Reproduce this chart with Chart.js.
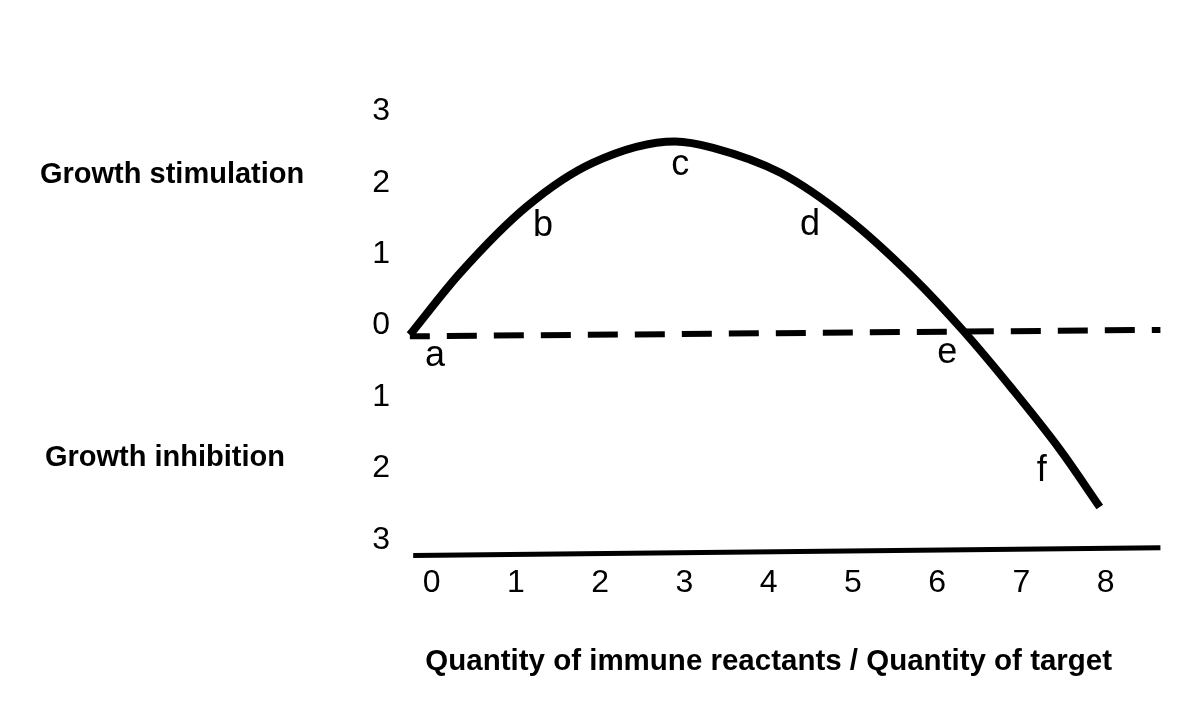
<!DOCTYPE html>
<html>
<head>
<meta charset="utf-8">
<title>Growth stimulation / inhibition</title>
<script src="https://cdn.jsdelivr.net/npm/chart.js@4.4.0/dist/chart.umd.min.js"></script>
<style>
  html, body { margin: 0; padding: 0; background: #fff; }
</style>
</head>
<body>
<canvas id="chart" width="1200" height="720"></canvas>
<script>
// curve
const curveX = [-0.26, 0.34, 1.13, 1.91, 2.89, 3.34, 4.14, 4.93, 5.71, 6.30, 6.90, 7.46, 7.93];
const curveY = [-0.13, 0.74, 1.67, 2.28, 2.58, 2.49, 2.14, 1.51, 0.68, -0.06, -0.90, -1.74, -2.54];

// dashed zero line and the solid base line (both drawn slightly askew)
const zeroLineX = [-0.26, 8.65];
const zeroLineY = [-0.15, -0.06];
const baseLineX = [-0.22, 8.65];
const baseLineY = [-3.22, -3.11];

// letters along the curve
const letters = ['a', 'b', 'c', 'd', 'e', 'f'];
const letterX = [0.04, 1.32, 2.95, 4.49, 6.12, 7.24];
const letterY = [-0.43, 1.39, 2.25, 1.41, -0.38, -2.04];

const xTicks = [0, 1, 2, 3, 4, 5, 6, 7, 8];
const yTicks = [3, 2, 1, 0, -1, -2, -3];
const yTickLabels = ['3', '2', '1', '0', '1', '2', '3'];

const sideLabels = ['Growth stimulation', 'Growth inhibition'];
const sideLabelY = [2.11, -1.85];
const xTitle = 'Quantity of immune reactants / Quantity of target';

const toPoints = (xs, ys) => xs.map((x, i) => ({ x: x, y: ys[i] }));

const textPlugin = {
    id: 'textPlugin',
    afterDatasetsDraw(chart) {
        const ctx = chart.ctx;
        const xs = chart.scales.x, ys = chart.scales.y;
        ctx.save();
        ctx.fillStyle = '#000';
        ctx.textBaseline = 'middle';

        ctx.font = '36px "Liberation Sans", Arial, sans-serif';
        ctx.textAlign = 'center';
        letters.forEach((l, i) => {
            ctx.fillText(l, xs.getPixelForValue(letterX[i]), ys.getPixelForValue(letterY[i]));
        });

        ctx.font = 'bold 29px "Liberation Sans", Arial, sans-serif';
        ctx.textAlign = 'left';
        ctx.fillText(sideLabels[0], 40, ys.getPixelForValue(sideLabelY[0]));
        ctx.fillText(sideLabels[1], 45, ys.getPixelForValue(sideLabelY[1]));

        ctx.font = 'bold 29.5px "Liberation Sans", Arial, sans-serif';
        ctx.textAlign = 'center';
        ctx.fillText(xTitle, xs.getPixelForValue(4), chart.chartArea.bottom + 101);
        ctx.restore();
    }
};

new Chart(document.getElementById('chart').getContext('2d'), {
    type: 'scatter',
    data: {
        datasets: [
            { data: toPoints(curveX, curveY), showLine: true, borderColor: '#000', borderWidth: 8, cubicInterpolationMode: 'monotone', pointRadius: 0, borderCapStyle: 'butt', clip: false },
            { data: toPoints(zeroLineX, zeroLineY), showLine: true, borderColor: '#000', borderWidth: 6, borderDash: [30, 17], borderDashOffset: 10, pointRadius: 0, clip: false },
            { data: toPoints(baseLineX, baseLineY), showLine: true, borderColor: '#000', borderWidth: 5, pointRadius: 0, clip: false }
        ]
    },
    options: {
        responsive: false,
        animation: false,
        devicePixelRatio: 1,
        layout: { padding: { top: 90, right: 40, left: 350, bottom: 38.8 } },
        plugins: { legend: { display: false }, tooltip: { enabled: false } },
        scales: {
            x: {
                type: 'linear',
                min: -0.258,
                max: 8.645,
                afterFit: s => { s.height = 120; },
                afterBuildTicks: s => { s.ticks = xTicks.map(v => ({ value: v })); },
                grid: { display: false, drawTicks: false },
                border: { display: false },
                ticks: { padding: 6, color: '#000', font: { family: '"Liberation Sans", Arial, sans-serif', size: 32, lineHeight: 1 } }
            },
            y: {
                type: 'linear',
                min: -3.3,
                max: 3.3,
                afterFit: s => { s.width = 60; },
                afterBuildTicks: s => { s.ticks = yTicks.map(v => ({ value: v })); },
                grid: { display: false, drawTicks: false },
                border: { display: false },
                ticks: {
                    padding: 20,
                    color: '#000',
                    font: { family: '"Liberation Sans", Arial, sans-serif', size: 32, lineHeight: 1 },
                    callback: (v) => yTickLabels[yTicks.indexOf(v)]
                }
            }
        }
    },
    plugins: [textPlugin]
});
</script>
</body>
</html>
